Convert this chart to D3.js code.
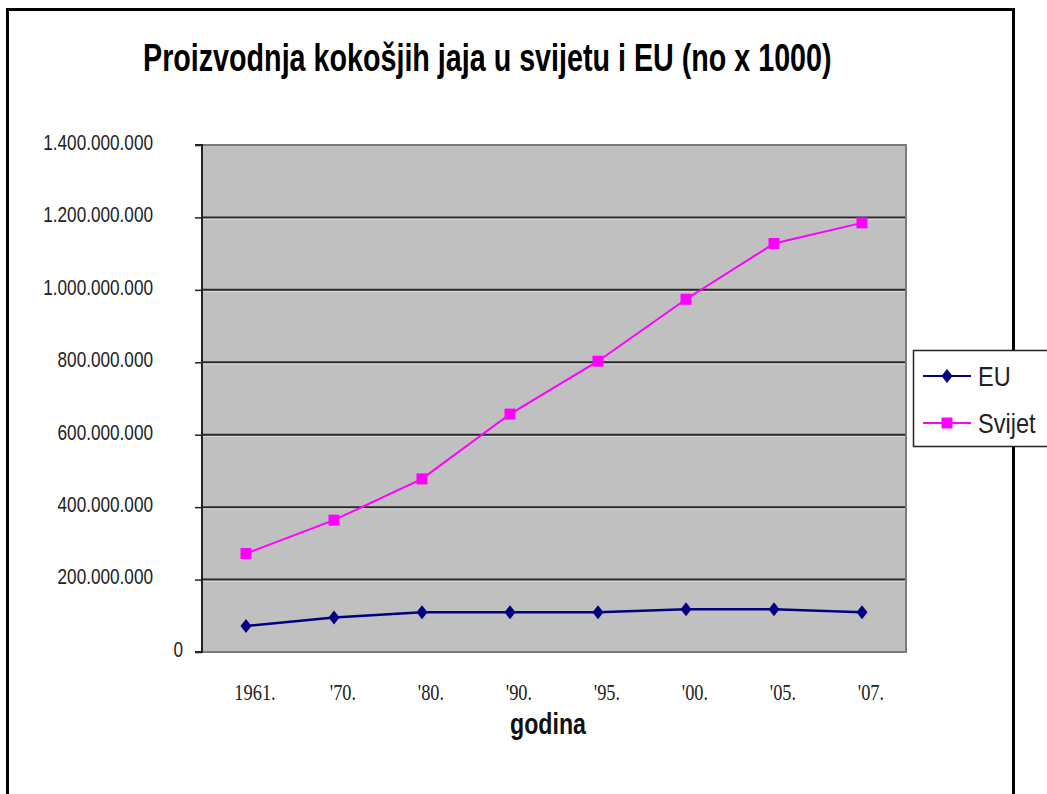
<!DOCTYPE html>
<html><head><meta charset="utf-8">
<script src="https://cdn.jsdelivr.net/npm/d3@7"></script>
<style>body{margin:0;background:#fff}svg{display:block}</style>
</head><body>
<script>
const categories = ["1961.", "'70.", "'80.", "'90.", "'95.", "'00.", "'05.", "'07."];
const euValues = [72e6, 95e6, 110e6, 110e6, 110e6, 118e6, 118e6, 110e6];
const svijetValues = [272e6, 364e6, 478e6, 657e6, 803e6, 974e6, 1128e6, 1185e6];
const yTicks = [0, 200e6, 400e6, 600e6, 800e6, 1000e6, 1200e6, 1400e6];
const seriesNames = ["EU", "Svijet"];
const titleText = "Proizvodnja kokošjih jaja u svijetu i EU (no  x 1000)";
const xTitle = "godina";

const W = 1047, H = 794;
const svg = d3.select("body").append("svg").attr("width", W).attr("height", H);
svg.append("rect").attr("width", W).attr("height", H).attr("fill", "#fff");
svg.append("rect").attr("x", 7.5).attr("y", 9.5).attr("width", 1006).attr("height", 800)
  .attr("fill", "none").attr("stroke", "#000").attr("stroke-width", 3);

const L = 202, R = 906, T = 145, B = 652;
const x = d3.scaleBand().domain(categories).range([L, R]);
const y = d3.scaleLinear().domain([0, 1.4e9]).range([B, T]);
const cx = c => x(c) + x.bandwidth() / 2;

const compress = (sel, f) => sel.each(function () {
  const len = this.getComputedTextLength();
  d3.select(this).attr("textLength", len * f).attr("lengthAdjust", "spacingAndGlyphs");
});
// place a text at (px,py) scaled horizontally to a target width
const fitText = (g, txt, px, py, target, attrs) => {
  const t = g.append("text").attr("x", 0).attr("y", 0).text(txt);
  Object.entries(attrs).forEach(([k, v]) => t.attr(k, v));
  const w = t.node().getComputedTextLength();
  const s = target / w;
  t.attr("transform", `translate(${px},${py}) scale(${s},1)`);
  return t;
};

svg.append("rect").attr("x", L).attr("y", T).attr("width", R - L).attr("height", B - T).attr("fill", "#C0C0C0");
const inner = yTicks.filter(v => v > 0 && v < 1.4e9);
svg.append("g").selectAll("line").data(inner).join("line")
  .attr("x1", L).attr("x2", R).attr("y1", d => y(d)).attr("y2", d => y(d))
  .attr("stroke", "#2a2a2a").attr("stroke-width", 2);
svg.append("g").selectAll("line").data(inner).join("line")
  .attr("x1", L).attr("x2", R).attr("y1", d => y(d) + 1.8).attr("y2", d => y(d) + 1.8)
  .attr("stroke", "#d8d8d8").attr("stroke-width", 1);
svg.append("path").attr("d", `M${L},${T}H${R}V${B}H${L}`).attr("fill", "none")
  .attr("stroke", "#7a7a7a").attr("stroke-width", 2);

const fmt = v => d3.format(",")(v).replace(/,/g, ".");
const yAxis = d3.axisLeft(y).tickValues(yTicks).tickSize(7).tickPadding(42).tickFormat(fmt);
const gy = svg.append("g").attr("transform", `translate(${L},0)`).call(yAxis);
gy.select(".domain").attr("stroke", "#222").attr("stroke-width", 2).attr("d", `M-7,${T}H0V${B}H-7`);
gy.selectAll(".tick line").attr("stroke", "#222").attr("stroke-width", 1.5);
gy.selectAll(".tick text").attr("font-family", "Liberation Sans, Arial, sans-serif")
  .attr("font-size", 22).attr("fill", "#222").attr("dy", "0.2em")
  .attr("x", d => d === 0 ? -19 : -49)
  .call(compress, 0.78);

const xl = svg.append("g").selectAll("text").data(categories).join("text")
  .attr("x", d => cx(d) + 9).attr("y", 700)
  .attr("text-anchor", "middle").attr("font-family", "Liberation Serif, Times New Roman, serif")
  .attr("font-size", 23).attr("fill", "#222").text(d => d);
compress(xl, 0.8);

fitText(svg, xTitle, 510, 734, 76, {
  "font-family": "Liberation Sans, Arial, sans-serif", "font-weight": "bold", "font-size": 29, "fill": "#111"
});
fitText(svg, titleText, 143, 71, 689, {
  "font-family": "Liberation Sans, Arial, sans-serif", "font-weight": "bold", "font-size": 39, "fill": "#000"
});

const line = d3.line().x((d, i) => cx(categories[i])).y(d => y(d));
svg.append("path").datum(svijetValues).attr("d", line).attr("fill", "none")
  .attr("stroke", "#FF00FF").attr("stroke-width", 2);
svg.append("path").datum(euValues).attr("d", line).attr("fill", "none")
  .attr("stroke", "#000080").attr("stroke-width", 2.5);

const diamond = (px, py) => `M${px},${py - 7}L${px + 5.5},${py}L${px},${py + 7}L${px - 5.5},${py}Z`;
svg.append("g").selectAll("path").data(euValues).join("path")
  .attr("d", (d, i) => diamond(cx(categories[i]), y(d))).attr("fill", "#000080");
svg.append("g").selectAll("rect").data(svijetValues).join("rect")
  .attr("x", (d, i) => cx(categories[i]) - 5.5).attr("y", d => y(d) - 5.5)
  .attr("width", 11).attr("height", 11).attr("fill", "#FF00FF");

const lg = svg.append("g");
lg.append("rect").attr("x", 913.5).attr("y", 350.5).attr("width", 160).attr("height", 96)
  .attr("fill", "#fff").attr("stroke", "#222").attr("stroke-width", 1.5);
const legY = [376, 423];
const legColors = ["#000080", "#FF00FF"];
seriesNames.forEach((n, i) => {
  lg.append("line").attr("x1", 923).attr("x2", 971).attr("y1", legY[i]).attr("y2", legY[i])
    .attr("stroke", legColors[i]).attr("stroke-width", 2);
  if (i === 0) lg.append("path").attr("d", diamond(947, legY[i])).attr("fill", legColors[i]);
  else lg.append("rect").attr("x", 941.5).attr("y", legY[i] - 5.5).attr("width", 11).attr("height", 11).attr("fill", legColors[i]);
  const t = lg.append("text").attr("x", 978).attr("y", legY[i] + 10).attr("font-family", "Liberation Sans, Arial, sans-serif")
    .attr("font-size", 28).attr("fill", "#222").text(n);
  compress(t, 0.84);
});
</script>
</body></html>
